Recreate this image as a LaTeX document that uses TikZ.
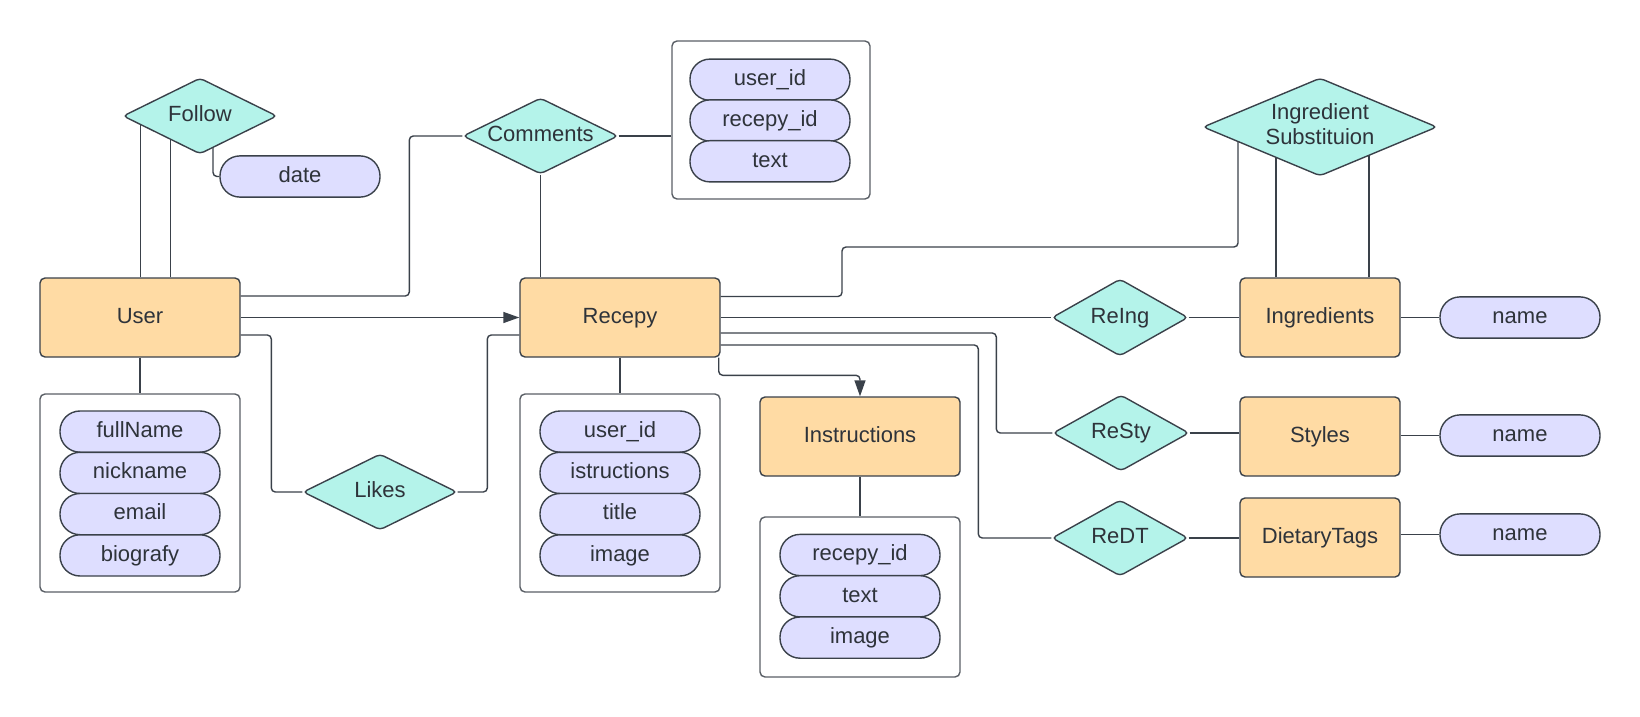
\documentclass[tikz,border=0pt]{standalone}
\usepackage{fontspec}
\setmainfont{Liberation Sans}
\usetikzlibrary{shapes.geometric,calc,arrows.meta,backgrounds}
\definecolor{entfill}{HTML}{FFDBA4}
\definecolor{relfill}{HTML}{B4F3EA}
\definecolor{attfill}{HTML}{DEDEFF}
\definecolor{edge}{HTML}{3A414A}
\definecolor{boxedge}{HTML}{5A5F66}
\definecolor{ink}{HTML}{2E333A}
\begin{document}
\begin{tikzpicture}[x=0.5pt,y=-0.5pt,
  every node/.style={font=\fontsize{11}{12.5}\selectfont, text=ink},
  lbl/.style={text height=8pt, text depth=2.2pt},
  entity/.style={rectangle, rounded corners=2.5pt, draw=edge, line width=0.7pt,
    fill=entfill, minimum width=#1, minimum height=39.5pt, inner sep=0pt, lbl},
  rel/.style 2 args={diamond, draw=edge, fill=relfill, line width=0.7pt,
    rounded corners=2pt, minimum width=#1, minimum height=#2, inner sep=0pt},
  attr/.style={rectangle, rounded corners=10pt, draw=edge, fill=attfill,
    line width=0.7pt, minimum width=80pt, minimum height=20.6pt, inner sep=0pt, lbl},
  attbox/.style 2 args={rectangle, rounded corners=2.5pt, draw=boxedge, fill=white,
    line width=0.7pt, minimum width=#1, minimum height=#2, inner sep=0pt},
  conn/.style={draw=edge, line width=0.7pt, rounded corners=2pt},
  arr/.style={conn, -{Triangle[length=8pt,width=5.5pt]}}
]
\useasboundingbox (0,0) rectangle (1640,717);

% ---- entities ----
\node[entity=100pt] (user)   at (140,317.5) {User};
\node[entity=100pt] (recepy) at (620,317.5) {Recepy};
\node[entity=100pt] (instr)  at (860,436.5) {Instructions};
\node[entity=80pt]  (ingr)   at (1320,317.5) {Ingredients};
\node[entity=80pt]  (styles) at (1320,436.5) {Styles};
\node[entity=80pt]  (dtags)  at (1320,537.5) {DietaryTags};

% ---- relationships ----
\node[rel={77pt}{38pt}, lbl]   (follow)   at (200,116)   {\makebox[0pt]{Follow}};
\node[rel={77.5pt}{38pt}, lbl] (comments) at (540.5,136) {\makebox[0pt]{Comments}};
\node[rel={77pt}{38pt}, lbl]   (likes)    at (380,492)   {\makebox[0pt]{Likes}};
\node[rel={117pt}{49pt}]       (ingsub)   at (1320,127)
  {\makebox[0pt]{\begin{tabular}{@{}c@{}}Ingredient\\Substituion\end{tabular}}};
\node[rel={68pt}{38.5pt}, lbl] (reing) at (1120,317.5) {\makebox[0pt]{ReIng}};
\node[rel={68pt}{38pt}, lbl]   (resty) at (1121,433)   {\makebox[0pt]{ReSty}};
\node[rel={68pt}{38pt}, lbl]   (redt)  at (1120,538)   {\makebox[0pt]{ReDT}};

% ---- single attributes ----
\node[attr] (date)  at (300,176.5)  {date};
\node[attr] (name1) at (1520,317.5) {name};
\node[attr] (name2) at (1520,435.5) {name};
\node[attr] (name3) at (1520,534.5) {name};

% ---- attribute groups ----
\node[attbox={100pt}{99pt}] (userbox) at (140,493) {};
\node[attr] (ua1) at (140,431.6) {fullName};
\node[attr] (ua2) at (140,472.9) {nickname};
\node[attr] (ua3) at (140,514.1) {email};
\node[attr] (ua4) at (140,555.4) {biografy};

\node[attbox={100pt}{99pt}] (recbox) at (620,493) {};
\node[attr] (ra1) at (620,431.6) {user\_id};
\node[attr] (ra2) at (620,472.9) {istructions};
\node[attr] (ra3) at (620,514.1) {title};
\node[attr] (ra4) at (620,555.4) {image};

\node[attbox={99pt}{79pt}] (combox) at (771,120) {};
\node[attr] (ca1) at (770,79.7)  {user\_id};
\node[attr] (ca2) at (770,120.5) {recepy\_id};
\node[attr] (ca3) at (770,161.3) {text};

\node[attbox={100pt}{80pt}] (instbox) at (860,597) {};
\node[attr] (ia1) at (860,555)   {recepy\_id};
\node[attr] (ia2) at (860,596.3) {text};
\node[attr] (ia3) at (860,637.6) {image};

% ---- connectors (kept behind the shapes) ----
\begin{scope}[on background layer]
  % Follow: recursive relation on User, plus its date attribute
  \draw[conn] ([xshift=50.5pt]user.north west) -- ([xshift=50.5pt]user.north west |- follow.center);
  \draw[conn] ([xshift=65.5pt]user.north west) -- ([xshift=65.5pt]user.north west |- follow.center);
  \draw[conn] ([xshift=6.5pt]follow.center) |- (date.west);

  % Comments
  \draw[conn] ([yshift=10.75pt]user.east) -| ($(comments.west)+(-53,0)$) -- (comments.west);
  \draw[conn] (comments.east) -- (comments.east -| combox.west);
  \draw[conn] (comments.south) -- (comments.south |- recepy.north);

  % User -> Recepy
  \draw[arr] (user.east) -- (recepy.west);

  % Likes
  \draw[conn] ([yshift=-8.75pt]user.east) -| ($(likes.west)+(-31,0)$) -- (likes.west);
  \draw[conn] (likes.east) -| ($(recepy.west)+(-32,17.5)$) -- ([yshift=-8.75pt]recepy.west);

  % attribute groups
  \draw[conn] (user.south) -- (userbox.north);
  \draw[conn] (recepy.south) -- (recbox.north);
  \draw[conn] (instr.south) -- (instbox.north);

  % Recepy -> Instructions
  \draw[arr] ([xshift=-1pt]recepy.south east) |- ($(instr.north)+(0,-21)$) -- (instr.north);

  % Ingredient substitution
  \draw[conn] ([yshift=10.5pt]recepy.east) -| ($(ingsub.center)+(-478,120)$)
    -| ($(ingsub.center)+(-82,0)$);
  \draw[conn] ([xshift=-22pt]ingr.north) -- ([xshift=-22pt]ingr.north |- ingsub.center);
  \draw[conn] ([xshift=24.5pt]ingr.north) -- ([xshift=24.5pt]ingr.north |- ingsub.center);

  % ReIng
  \draw[conn] (recepy.east) -- (reing.west);
  \draw[conn] (reing.east) -- (ingr.west);
  \draw[conn] (ingr.east) -- (name1.west);

  % ReSty
  \draw[conn] ([yshift=-7.75pt]recepy.east) -| ($(resty.west)+(-56,0)$) -- (resty.west);
  \draw[conn] (resty.east) -- (resty.east -| styles.west);
  \draw[conn] (name2.west -| styles.east) -- (name2.west);

  % ReDT
  \draw[conn] ([yshift=-13.75pt]recepy.east) -| ($(redt.west)+(-73,0)$) -- (redt.west);
  \draw[conn] (redt.east) -- (redt.east -| dtags.west);
  \draw[conn] (name3.west -| dtags.east) -- (name3.west);
\end{scope}
\end{tikzpicture}
\end{document}
